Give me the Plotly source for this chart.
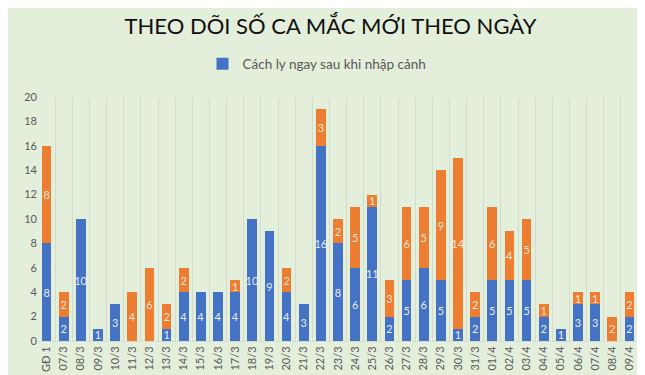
import plotly.graph_objects as go

categories = ["GĐ 1", "07/3", "08/3", "09/3", "10/3", "11/3", "12/3", "13/3", "14/3", "15/3",
              "16/3", "17/3", "18/3", "19/3", "20/3", "21/3", "22/3", "23/3", "24/3", "25/3",
              "26/3", "27/3", "28/3", "29/3", "30/3", "31/3", "01/4", "02/4", "03/4", "04/4",
              "05/4", "06/4", "07/4", "08/4", "09/4"]
blue_vals = [8, 2, 10, 1, 3, 0, 0, 1, 4, 4, 4, 4, 10, 9, 4, 3, 16, 8, 6, 11,
             2, 5, 6, 5, 1, 2, 5, 5, 5, 2, 1, 3, 3, 0, 2]
orange_vals = [8, 2, 0, 0, 0, 4, 6, 2, 2, 0, 0, 1, 0, 0, 2, 0, 3, 2, 5, 1,
               3, 6, 5, 9, 14, 2, 6, 4, 5, 1, 0, 1, 1, 2, 2]
y_ticks = [0, 2, 4, 6, 8, 10, 12, 14, 16, 18, 20]

BG = "#e3eedb"
BLUE = "#4472c4"
ORANGE = "#ed7d31"
GRAY = "#595959"

def labels(vals):
    return [str(v) if v else "" for v in vals]

fig = go.Figure()
fig.add_trace(go.Bar(
    x=categories, y=blue_vals, name="Cách ly ngay sau khi nhập cảnh",
    marker=dict(color=BLUE, line=dict(width=0)),
    text=labels(blue_vals), textposition="inside", insidetextanchor="middle",
    textangle=0,
    textfont=dict(color="#e6ecf7", size=11, family="Lato"),
    showlegend=True,
))
fig.add_trace(go.Bar(
    x=categories, y=orange_vals, name="Khác",
    marker=dict(color=ORANGE, line=dict(width=0)),
    text=labels(orange_vals), textposition="inside", insidetextanchor="middle",
    textangle=0,
    textfont=dict(color="#f7e6d8", size=11, family="Lato"),
    showlegend=False,
))

fig.update_layout(
    barmode="stack",
    bargap=0.44,
    width=645, height=375,
    paper_bgcolor=BG, plot_bgcolor=BG,
    margin=dict(l=30, r=15, t=89, b=42),
    font=dict(family="Lato", color=GRAY),
    title=dict(text="THEO DÕI SỐ CA MẮC MỚI THEO NGÀY", x=0.5, xanchor="center",
               y=0.95, yanchor="middle", pad=dict(t=0, b=0),
               font=dict(family="Lato", size=22, color="#111111")),
    legend=dict(orientation="h", x=0.465, xanchor="center", y=1.135, yanchor="middle",
                font=dict(size=13.5, color=GRAY), bgcolor="rgba(0,0,0,0)",
                itemwidth=30),
    uniformtext=dict(minsize=11, mode="show"),
    xaxis=dict(type="category", tickangle=-90, tickson="boundaries",
               showgrid=True, gridcolor="#d3dccd", gridwidth=1,
               ticks="", tickfont=dict(size=11, color=GRAY),
               showline=True, linecolor="#d3dccd", range=[-0.5, len(categories) - 0.5]),
    yaxis=dict(range=[0, 20], tickvals=y_ticks, showgrid=False, zeroline=False,
               tickfont=dict(size=11, color=GRAY), ticks="", showline=False),
)

fig.write_html("out.html")
